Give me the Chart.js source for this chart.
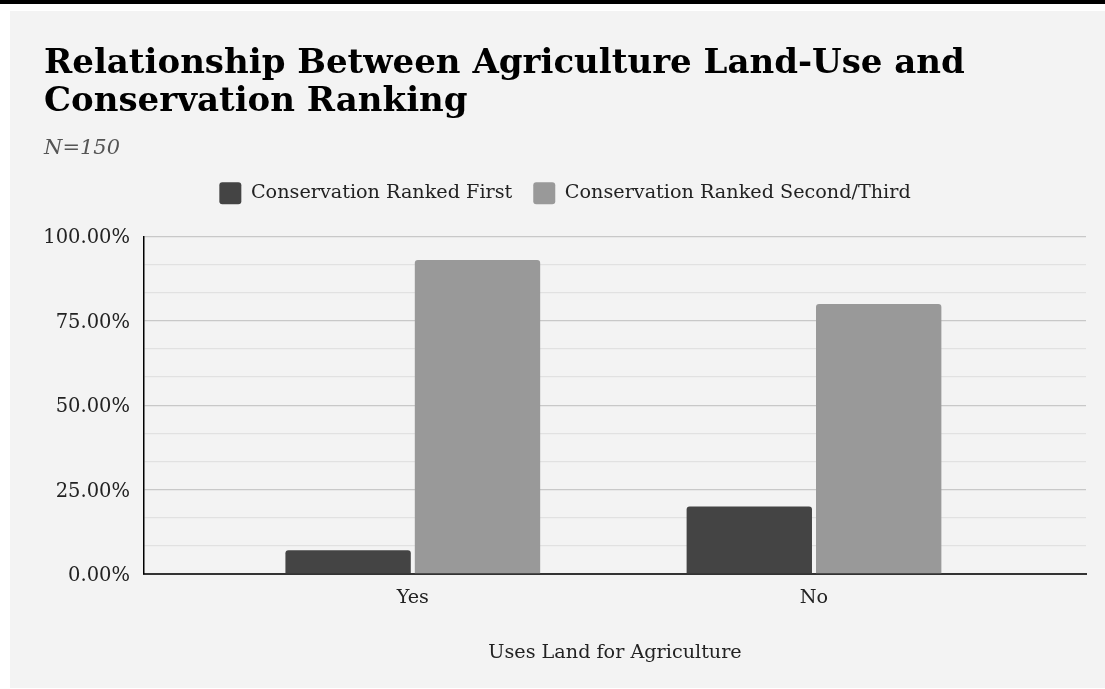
<!DOCTYPE html>
<html>
<head>
<meta charset="utf-8">
<script src="https://cdn.jsdelivr.net/npm/chart.js@4/dist/chart.umd.min.js"></script>
<style>
  html, body { margin: 0; padding: 0; background: #ffffff; width: 1105px; height: 689px; overflow: hidden; }
  #topRule { position: absolute; left: 0; top: 0; width: 1105px; height: 4px; background: #000000; }
  #panel { position: absolute; left: 10px; top: 11px; width: 1095px; height: 677px; background: #f3f3f3; }
  canvas { display: block; }
</style>
</head>
<body>
<div id="topRule"></div>
<div id="panel"><canvas id="chart" width="1095" height="677"></canvas></div>
<script>
// Survey answers: share of respondents per land-use group
const categories = ['Yes', 'No'];
const seriesNames = ['Conservation Ranked First', 'Conservation Ranked Second/Third'];
const rankedFirst = [7, 20];
const rankedSecondThird = [93, 80];
const seriesColors = ['#444444', '#999999'];
const yMajorStep = 25;

const FONT = "'DejaVu Serif', serif";

function toPoints(values) {
  return values.map((v, i) => ({ x: i, y: v }));
}

// Leaves extra room between the legend row and the plot area
const legendGap = {
  id: 'legendGap',
  beforeInit(chart) {
    const legend = chart.legend;
    if (!legend) return;
    const fit = legend.fit;
    legend.fit = function () {
      fit.call(this);
      this.height += 22;
    };
  }
};

const ctx = document.getElementById('chart').getContext('2d');
new Chart(ctx, {
  type: 'bar',
  plugins: [legendGap],
  data: {
    datasets: [
      {
        label: seriesNames[0],
        data: toPoints(rankedFirst),
        backgroundColor: seriesColors[0],
        borderRadius: 3,
        borderSkipped: 'start',
        categoryPercentage: 0.645,
        barPercentage: 0.969
      },
      {
        label: seriesNames[1],
        data: toPoints(rankedSecondThird),
        backgroundColor: seriesColors[1],
        borderRadius: 3,
        borderSkipped: 'start',
        categoryPercentage: 0.645,
        barPercentage: 0.969
      }
    ]
  },
  options: {
    responsive: false,
    animation: false,
    layout: { padding: { left: 34, right: 19, top: 0, bottom: 23 } },
    plugins: {
      tooltip: { enabled: false },
      title: {
        display: true,
        text: ['Relationship Between Agriculture Land-Use and', 'Conservation Ranking'],
        align: 'start',
        color: '#000000',
        font: { family: FONT, size: 34, weight: 'bold', lineHeight: 1.12 },
        padding: { top: 34, bottom: 15 }
      },
      subtitle: {
        display: true,
        text: 'N=150',
        align: 'start',
        color: '#555555',
        font: { family: FONT, size: 21, style: 'italic', lineHeight: 1.2 },
        padding: { top: 0, bottom: 0 }
      },
      legend: {
        position: 'top',
        align: 'center',
        labels: {
          color: '#222222',
          font: { family: FONT, size: 19.2 },
          boxWidth: 22,
          boxHeight: 22,
          useBorderRadius: true,
          borderRadius: 3,
          padding: 21
        }
      }
    },
    scales: {
      x: {
        type: 'linear',
        min: -0.67,
        max: categories.length - 1 + 0.678,
        offset: false,
        grid: { display: false, drawTicks: false },
        border: { display: true, color: '#333333', width: 2 },
        afterBuildTicks: (axis) => { axis.ticks = categories.map((_, i) => ({ value: i })); },
        afterFit: (scale) => { scale.height = 91; },
        ticks: {
          autoSkip: false,
          maxRotation: 0,
          padding: 12,
          color: '#222222',
          font: { family: FONT, size: 19.2 },
          callback: (value) => categories[value] ?? ''
        },
        title: {
          display: true,
          text: 'Uses Land for Agriculture',
          color: '#222222',
          font: { family: FONT, size: 19.2 },
          padding: { top: 20, bottom: 0 }
        }
      },
      y: {
        min: 0,
        max: 100,
        afterFit: (scale) => { scale.width = 100; },
        grid: {
          drawTicks: false,
          color: (c) => (c.index % 3 === 0 ? '#c8c8c8' : '#e1e1e1'),
          lineWidth: 1.3
        },
        border: { display: true, color: '#000000', width: 1.5 },
        ticks: {
          stepSize: yMajorStep / 3,
          padding: 14,
          labelOffset: 2,
          color: '#222222',
          font: { family: FONT, size: 19.5 },
          callback: (value, index) => (index % 3 === 0 ? value.toFixed(2) + '%' : '')
        }
      }
    }
  }
});
</script>
</body>
</html>
